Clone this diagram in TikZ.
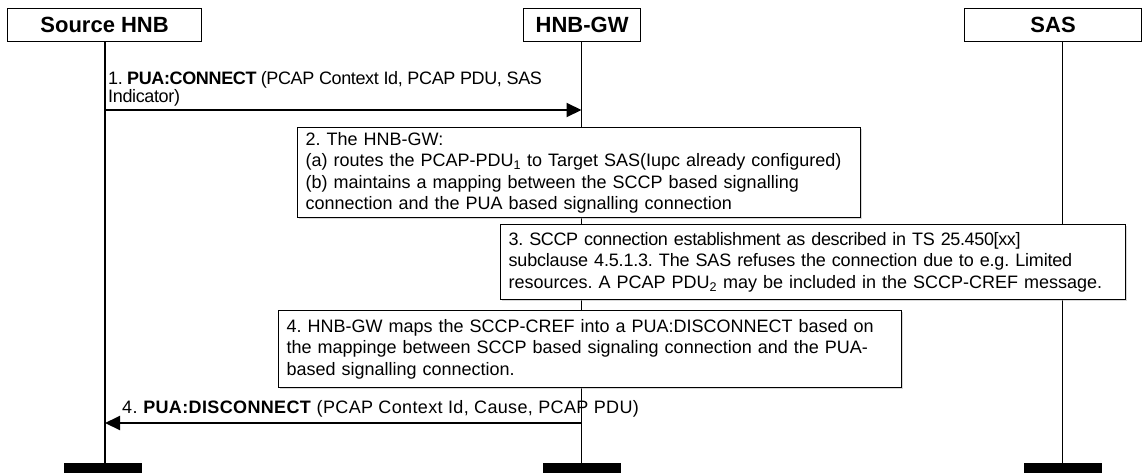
\documentclass[tikz,border=0pt]{standalone}
\usepackage{fontspec}
\setmainfont{Liberation Sans}
\usetikzlibrary{arrows.meta,shadows}
\frenchspacing
\begin{document}
\begin{tikzpicture}[x=1pt,y=-1pt,
  header/.style={draw, line width=1.2pt, fill=white, inner sep=0pt,
    font=\fontsize{22}{26}\selectfont\bfseries, anchor=north west, minimum height=33pt},
  lifeline/.style={line width=1.3pt},
  endbar/.style={fill=black, draw=none, inner sep=0pt, anchor=north west,
    minimum width=78pt, minimum height=12pt},
  note/.style={draw, line width=1.2pt, fill=white, anchor=north west, align=left,
    inner xsep=8pt, inner ysep=0pt, font=\fontsize{18}{21.5}\selectfont,
    drop shadow={shadow xshift=1.3pt, shadow yshift=-1.3pt, fill=black!30}},
  msg/.style={line width=2pt, -{Triangle[length=15pt,width=14pt]}},
  msgtext/.style={anchor=north west, align=left, inner sep=0pt,
    font=\fontsize{18}{18.4}\selectfont}
]
\useasboundingbox (0,0) rectangle (1148,472);
\fill[white] (0,0) rectangle (1148,472);

% headers
\node[header, minimum width=194pt] (src) at (7,8) {Source HNB};
\node[header, minimum width=117pt] (gw) at (523,8) {HNB-GW};
\node[header, minimum width=177pt] (sas) at (964,8) {SAS};

% end bars
\node[endbar] (srcEnd) at (64,463) {};
\node[endbar] (gwEnd) at (543,463) {};
\node[endbar] (sasEnd) at (1024,463) {};

% lifeline x positions
\coordinate (xs) at (105,0);
\coordinate (xg) at (581.5,0);
\coordinate (xa) at (1062.5,0);

\draw[lifeline] (xs |- src.south) -- (xs |- srcEnd.north);
\draw[lifeline] (xg |- gw.south) -- (xg |- gwEnd.north);
\draw[lifeline] (xa |- sas.south) -- (xa |- sasEnd.north);

% message 1
\coordinate (m1a) at (xs |- 0,110);
\coordinate (m1b) at (xg |- 0,110);
\draw[msg] (m1a) -- (m1b);
\node[msgtext] (t1) at (108,70.3) {\addfontfeatures{LetterSpace=-2}\rule{0pt}{14pt}1. \textbf{PUA:CONNECT} (PCAP Context Id, PCAP PDU, SAS\\\addfontfeatures{LetterSpace=-2}Indicator)};

% box 2
\node[note, minimum width=563pt, minimum height=90pt, text width=547pt] (b2) at (297,127)
 {\mbox{2. The HNB-GW:}\\
  \mbox{(a) routes the PCAP-PDU\textsubscript{1} to Target SAS(Iupc already configured)}\\
  \mbox{(b) maintains a mapping between the SCCP based signalling}\\
  \mbox{connection and the PUA based signalling connection}};

% box 3
\node[note, minimum width=625pt, minimum height=75pt, text width=609pt] (b3) at (500,224)
 {\mbox{\addfontfeatures{LetterSpace=-2}3. SCCP connection establishment as described in TS 25.450[xx]}\\
  \mbox{\addfontfeatures{LetterSpace=-1}subclause 4.5.1.3. The SAS refuses the connection due to e.g. Limited}\\
  \mbox{resources. A PCAP PDU\textsubscript{2} may be included in the SCCP-CREF message.}};

% box 4
\node[note, minimum width=623pt, minimum height=77pt, text width=607pt] (b4) at (278,310)
 {\mbox{4. HNB-GW maps the SCCP-CREF into a PUA:DISCONNECT based on}\\
  \mbox{the mappinge between SCCP based signaling connection and the PUA-}\\
  \mbox{based signalling connection.}};

% message 4
\coordinate (m4a) at (xg |- 0,423);
\coordinate (m4b) at (xs |- 0,423);
\draw[msg] (m4a) -- (m4b);
\node[msgtext] (t4) at (122,399) {\addfontfeatures{LetterSpace=2}\rule{0pt}{14pt}4. \textbf{PUA:DISCONNECT} (PCAP Context Id, Cause, PCAP PDU)};
\end{tikzpicture}
\end{document}
